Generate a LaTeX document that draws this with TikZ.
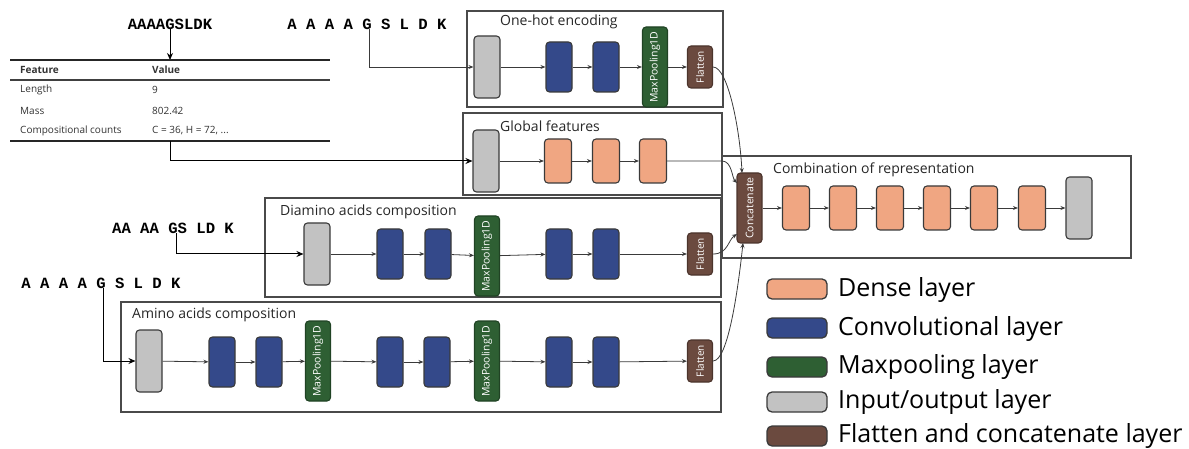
\documentclass[tikz,border=0pt]{standalone}
\usepackage{fontspec}
\setmainfont{Open Sans}
\setmonofont{Liberation Mono}
\usetikzlibrary{arrows.meta}
\definecolor{denseC}{HTML}{F0A682}
\definecolor{convC}{HTML}{34498A}
\definecolor{poolC}{HTML}{2E5F33}
\definecolor{inC}{HTML}{C2C2C2}
\definecolor{flatC}{HTML}{6B4A3F}
\definecolor{edgeC}{HTML}{3A3A3A}
\definecolor{frameC}{HTML}{4A4A4A}
\begin{document}
\begin{tikzpicture}[x=1pt,y=-1pt,
  layer/.style={draw=edgeC, line width=1.1pt, rounded corners=3.5pt, inner sep=0pt},
  inp/.style={layer, fill=inC, minimum width=26, minimum height=62},
  conv/.style={layer, fill=convC, minimum width=26, minimum height=50},
  dense/.style={layer, fill=denseC, minimum width=27, minimum height=44},
  pool/.style={layer, draw=poolC!70!black, fill=poolC, rotate=90, minimum width=80, minimum height=25, text=white, font=\fontsize{10.5}{12}\selectfont},
  flat/.style={layer, draw=flatC!70!black, fill=flatC, rotate=90, minimum width=42, minimum height=25, text=white, font=\fontsize{10}{11}\selectfont},
  frame/.style={draw=frameC, line width=1.3pt},
  title/.style={anchor=west, inner sep=0pt, font=\fontsize{14}{16}\selectfont, text=black!85},
  seq/.style={inner sep=0pt, font=\fontsize{15.6}{17}\selectfont\ttfamily\bfseries},
  tab/.style={anchor=west, inner sep=0pt, font=\fontsize{10}{12}\selectfont, text=black!80},
  conn/.style={draw=edgeC, line width=0.8pt, -{Stealth[length=5pt,width=4pt]}},
  bigarr/.style={draw=black, line width=1pt, -{Stealth[length=7pt,width=6pt]}},
  legbox/.style={layer, line width=1.3pt, rounded corners=5pt, minimum width=60, minimum height=20},
  legtxt/.style={anchor=west, inner sep=0pt, font=\fontsize{25}{28}\selectfont}
]
\useasboundingbox (0,0) rectangle (1189,449);

% ---------- table ----------
\node[seq] (tA) at (170,24) {AAAAGSLDK};
\coordinate (ttop) at (170,60);
\draw[bigarr] (tA.south) -- (ttop);
\draw[line width=1.6pt, draw=black!85] (10,60) -- (330,60);
\draw[line width=1.3pt, draw=black!75] (10,80) -- (330,80);
\draw[line width=1.6pt, draw=black!85] (10,141) -- (330,141);
\node[tab, font=\fontsize{10}{12}\selectfont\bfseries] (h1) at (20,70) {Feature};
\node[tab, font=\fontsize{10}{12}\selectfont\bfseries] (h2) at (152,70) {Value};
\node[tab] (r1a) at (20,90) {Length};
\node[tab] (r1b) at (152,90) {9};
\node[tab] (r2a) at (20,111) {Mass};
\node[tab] (r2b) at (152,111) {802.42};
\node[tab] (r3a) at (20,131) {Compositional counts};
\node[tab] (r3b) at (152,131) {C = 36, H = 72, ...};
\coordinate (tbot) at (170,141);

% ---------- one-hot ----------
\draw[frame] (467,11) rectangle (723,107);
\node[title] (t1) at (500,22) {One-hot encoding};
\node[seq] (s1) at (367,24) {A A A A G S L D K};
\node[inp] (oin) at (487,67) {};
\node[conv] (oc1) at (559,67) {};
\node[conv] (oc2) at (606,67) {};
\node[pool] (op) at (655,67) {MaxPooling1D};
\node[flat] (of) at (700,67) {Flatten};
\draw[conn] ([xshift=2]s1.south) |- (oin);
\draw[conn] (oin) -- (oc1);
\draw[conn] (oc1) -- (oc2);
\draw[conn] (oc2) -- (op);
\draw[conn] (op) -- (of);

% ---------- global ----------
\draw[frame] (463,113) rectangle (722,195);
\node[title] (t2) at (500,126) {Global features};
\node[inp] (gin) at (486,161) {};
\node[dense] (gd1) at (558,161) {};
\node[dense] (gd2) at (606,161) {};
\node[dense] (gd3) at (653,161) {};
\draw[bigarr] (tbot) |- (gin);
\draw[conn] (gin) -- (gd1);
\draw[conn] (gd1) -- (gd2);
\draw[conn] (gd2) -- (gd3);

% ---------- combination ----------
\draw[frame] (722,156) rectangle (1131,258);
\node[title] (t3) at (773,170) {Combination of representation};
\node[flat, minimum width=70, font=\fontsize{10.5}{12}\selectfont] (cat) at (749.5,208) {Concatenate};
\node[dense] (cd1) at (796,208) {};
\node[dense] (cd2) at (843,208) {};
\node[dense] (cd3) at (890,208) {};
\node[dense] (cd4) at (937,208) {};
\node[dense] (cd5) at (984,208) {};
\node[dense] (cd6) at (1032,208) {};
\node[inp] (cout) at (1079,208) {};
\draw[conn] (cat) -- (cd1);
\draw[conn] (cd1) -- (cd2);
\draw[conn] (cd2) -- (cd3);
\draw[conn] (cd3) -- (cd4);
\draw[conn] (cd4) -- (cd5);
\draw[conn] (cd5) -- (cd6);
\draw[conn] (cd6) -- (cout);

% ---------- diamino ----------
\draw[frame] (265,198) rectangle (721,297);
\node[title] (t4) at (280,212) {Diamino acids composition};
\node[seq] (s2) at (173,228) {AA AA GS LD K};
\node[inp] (din) at (317,254) {};
\node[conv] (dc1) at (390,254) {};
\node[conv] (dc2) at (438,254) {};
\node[pool] (dp) at (487,256) {MaxPooling1D};
\node[conv] (dc3) at (559,254) {};
\node[conv] (dc4) at (606,254) {};
\node[flat] (df) at (700,254) {Flatten};
\draw[bigarr] ([xshift=3]s2.south) |- (din);
\draw[conn] (din) -- (dc1);
\draw[conn] (dc1) -- (dc2);
\draw[conn] (dc2) -- (dp);
\draw[conn] (dp) -- (dc3);
\draw[conn] (dc3) -- (dc4);
\draw[conn] (dc4) -- (df);

% ---------- amino ----------
\draw[frame] (121,302) rectangle (721,412);
\node[title] (t5) at (132,315) {Amino acids composition};
\node[seq] (s3) at (101,283) {A A A A G S L D K};
\node[inp] (ain) at (149,361) {};
\node[conv] (ac1) at (222,362) {};
\node[conv] (ac2) at (269,362) {};
\node[pool] (ap1) at (318,361) {MaxPooling1D};
\node[conv] (ac3) at (390,362) {};
\node[conv] (ac4) at (437,362) {};
\node[pool] (ap2) at (487,361) {MaxPooling1D};
\node[conv] (ac5) at (559,362) {};
\node[conv] (ac6) at (606,362) {};
\node[flat] (af) at (700,361) {Flatten};
\draw[bigarr] ([xshift=2]s3.south) |- (ain);
\draw[conn] (ain) -- (ac1);
\draw[conn] (ac1) -- (ac2);
\draw[conn] (ac2) -- (ap1);
\draw[conn] (ap1) -- (ac3);
\draw[conn] (ac3) -- (ac4);
\draw[conn] (ac4) -- (ap2);
\draw[conn] (ap2) -- (ac5);
\draw[conn] (ac5) -- (ac6);
\draw[conn] (ac6) -- (af);

% ---------- into concatenate ----------
\coordinate (catT) at (742,173);
\coordinate (catL1) at (737,183);
\coordinate (catL2) at (737,234);
\coordinate (catB) at (743,243);
\coordinate (gmid) at (722,161);
\draw[conn] (of.south) .. controls (728,67) and (740,130) .. (catT);
\draw[conn] (gd3) -- (gmid) .. controls (732,161) and (732,178) .. (catL1);
\draw[conn] (df.south) .. controls (728,254) and (728,240) .. (catL2);
\draw[conn] (af.south) .. controls (728,361) and (738,290) .. (catB);

% ---------- legend ----------
\node[legbox, fill=denseC] (l1) at (797,289) {};
\node[legbox, fill=convC] (l2) at (797,328) {};
\node[legbox, fill=poolC] (l3) at (797,367) {};
\node[legbox, fill=inC] (l4) at (797,402) {};
\node[legbox, fill=flatC] (l5) at (797,436) {};
\node[legtxt] (lt1) at (838,290) {Dense layer};
\node[legtxt] (lt2) at (838,329) {Convolutional layer};
\node[legtxt] (lt3) at (838,367) {Maxpooling layer};
\node[legtxt] (lt4) at (838,402) {Input/output layer};
\node[legtxt] (lt5) at (838,436) {Flatten and concatenate layer};
\end{tikzpicture}
\end{document}
